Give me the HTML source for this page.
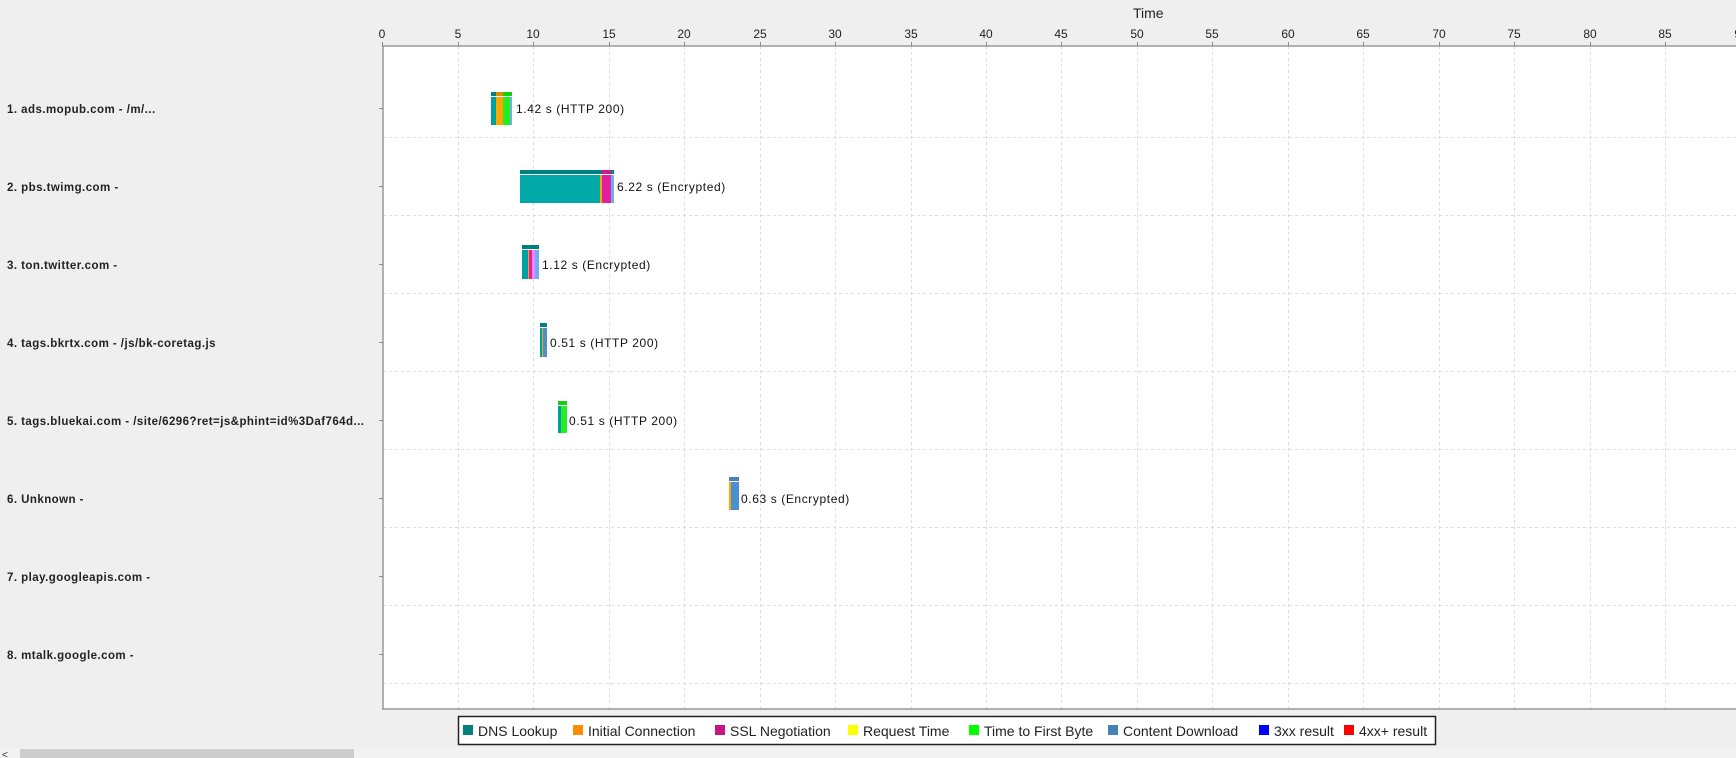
<!DOCTYPE html>
<html><head><meta charset="utf-8"><style>
html,body{margin:0;padding:0;background:#efefef;}
svg{display:block;font-family:"Liberation Sans",sans-serif;}
</style></head><body>
<svg width="1736" height="758" viewBox="0 0 1736 758" xmlns="http://www.w3.org/2000/svg">
<rect width="1736" height="758" fill="#efefef"/>
<text x="1133" y="18" font-size="14" fill="#222">Time</text>
<rect x="383" y="46" width="1360" height="663" fill="#fff"/>
<g stroke="#ddd" stroke-dasharray="3,3" stroke-width="1">
<line x1="458.5" y1="46" x2="458.5" y2="709"/><line x1="533.5" y1="46" x2="533.5" y2="709"/><line x1="609.5" y1="46" x2="609.5" y2="709"/><line x1="684.5" y1="46" x2="684.5" y2="709"/><line x1="760.5" y1="46" x2="760.5" y2="709"/><line x1="835.5" y1="46" x2="835.5" y2="709"/><line x1="911.5" y1="46" x2="911.5" y2="709"/><line x1="986.5" y1="46" x2="986.5" y2="709"/><line x1="1061.5" y1="46" x2="1061.5" y2="709"/><line x1="1137.5" y1="46" x2="1137.5" y2="709"/><line x1="1212.5" y1="46" x2="1212.5" y2="709"/><line x1="1288.5" y1="46" x2="1288.5" y2="709"/><line x1="1363.5" y1="46" x2="1363.5" y2="709"/><line x1="1439.5" y1="46" x2="1439.5" y2="709"/><line x1="1514.5" y1="46" x2="1514.5" y2="709"/><line x1="1590.5" y1="46" x2="1590.5" y2="709"/><line x1="1665.5" y1="46" x2="1665.5" y2="709"/>
<line x1="383" y1="137.5" x2="1736" y2="137.5"/><line x1="383" y1="215.5" x2="1736" y2="215.5"/><line x1="383" y1="293.5" x2="1736" y2="293.5"/><line x1="383" y1="371.5" x2="1736" y2="371.5"/><line x1="383" y1="449.5" x2="1736" y2="449.5"/><line x1="383" y1="527.5" x2="1736" y2="527.5"/><line x1="383" y1="605.5" x2="1736" y2="605.5"/><line x1="383" y1="683.5" x2="1736" y2="683.5"/>
</g>
<g stroke="#999" stroke-width="1.5">
<line x1="382" y1="46" x2="1736" y2="46"/><line x1="383" y1="46" x2="383" y2="709"/><line x1="382" y1="709" x2="1736" y2="709"/>
</g>
<g stroke="#888" stroke-width="1">
<line x1="382.5" y1="42" x2="382.5" y2="46"/><line x1="458.5" y1="42" x2="458.5" y2="46"/><line x1="533.5" y1="42" x2="533.5" y2="46"/><line x1="609.5" y1="42" x2="609.5" y2="46"/><line x1="684.5" y1="42" x2="684.5" y2="46"/><line x1="760.5" y1="42" x2="760.5" y2="46"/><line x1="835.5" y1="42" x2="835.5" y2="46"/><line x1="911.5" y1="42" x2="911.5" y2="46"/><line x1="986.5" y1="42" x2="986.5" y2="46"/><line x1="1061.5" y1="42" x2="1061.5" y2="46"/><line x1="1137.5" y1="42" x2="1137.5" y2="46"/><line x1="1212.5" y1="42" x2="1212.5" y2="46"/><line x1="1288.5" y1="42" x2="1288.5" y2="46"/><line x1="1363.5" y1="42" x2="1363.5" y2="46"/><line x1="1439.5" y1="42" x2="1439.5" y2="46"/><line x1="1514.5" y1="42" x2="1514.5" y2="46"/><line x1="1590.5" y1="42" x2="1590.5" y2="46"/><line x1="1665.5" y1="42" x2="1665.5" y2="46"/>
<line x1="379" y1="108.5" x2="383" y2="108.5"/><line x1="379" y1="186.5" x2="383" y2="186.5"/><line x1="379" y1="264.5" x2="383" y2="264.5"/><line x1="379" y1="342.5" x2="383" y2="342.5"/><line x1="379" y1="420.5" x2="383" y2="420.5"/><line x1="379" y1="498.5" x2="383" y2="498.5"/><line x1="379" y1="576.5" x2="383" y2="576.5"/><line x1="379" y1="654.5" x2="383" y2="654.5"/>
</g>
<g font-size="12" fill="#222" text-anchor="middle">
<text x="382" y="38">0</text><text x="458" y="38">5</text><text x="533" y="38">10</text><text x="609" y="38">15</text><text x="684" y="38">20</text><text x="760" y="38">25</text><text x="835" y="38">30</text><text x="911" y="38">35</text><text x="986" y="38">40</text><text x="1061" y="38">45</text><text x="1137" y="38">50</text><text x="1212" y="38">55</text><text x="1288" y="38">60</text><text x="1363" y="38">65</text><text x="1439" y="38">70</text><text x="1514" y="38">75</text><text x="1590" y="38">80</text><text x="1665" y="38">85</text><text x="1741" y="38">90</text>
</g>
<g font-size="11.5" fill="#222" font-weight="bold" letter-spacing="0.45">
<text x="7" y="113">1. ads.mopub.com - /m/...</text>
<text x="7" y="191">2. pbs.twimg.com -</text>
<text x="7" y="269">3. ton.twitter.com -</text>
<text x="7" y="347">4. tags.bkrtx.com - /js/bk-coretag.js</text>
<text x="7" y="425">5. tags.bluekai.com - /site/6296?ret=js&amp;phint=id%3Daf764d...</text>
<text x="7" y="503">6. Unknown -</text>
<text x="7" y="581">7. play.googleapis.com -</text>
<text x="7" y="659">8. mtalk.google.com -</text>
</g>
<rect x="491" y="92" width="21" height="4" fill="#e08a00"/><rect x="491" y="92" width="5" height="4" fill="#008080"/><rect x="503" y="92" width="9" height="4" fill="#10d010"/>
<rect x="491" y="97" width="5" height="28" fill="#00a0a0"/><rect x="496" y="97" width="7" height="28" fill="#ffa500"/><rect x="503" y="97" width="7" height="28" fill="#22ee22"/><rect x="510" y="97" width="2" height="28" fill="#6ab0f0"/>
<rect x="520" y="170" width="94" height="4" fill="#008080"/><rect x="602" y="170" width="9" height="4" fill="#d01890"/>
<rect x="520" y="175" width="80" height="28" fill="#00a8a8"/><rect x="600" y="175" width="2" height="28" fill="#ffa500"/><rect x="602" y="175" width="9" height="28" fill="#e020a0"/><rect x="611" y="175" width="3" height="28" fill="#6ab0f0"/>
<rect x="522" y="245" width="17" height="4" fill="#008080"/>
<rect x="522" y="250" width="6" height="29" fill="#00a0a0"/><rect x="528" y="250" width="1" height="29" fill="#ffa500"/><rect x="529" y="250" width="3" height="29" fill="#e020a0"/><rect x="532" y="250" width="3" height="29" fill="#ff80ff"/><rect x="535" y="250" width="4" height="29" fill="#6ab0f0"/>
<rect x="540" y="323" width="7" height="4" fill="#008080"/>
<rect x="540" y="328" width="2" height="29" fill="#00a0a0"/><rect x="542" y="328" width="1" height="29" fill="#ffa500"/><rect x="543" y="328" width="4" height="29" fill="#4a90d0"/>
<rect x="558" y="401" width="9" height="4" fill="#10d010"/>
<rect x="558" y="406" width="3" height="27" fill="#00a0a0"/><rect x="561" y="406" width="6" height="27" fill="#22ee22"/>
<rect x="729" y="477" width="10" height="4" fill="#4682b4"/>
<rect x="729" y="482" width="2" height="28" fill="#ffa500"/><rect x="731" y="482" width="8" height="28" fill="#4a90d0"/>
<g font-size="12" fill="#111" letter-spacing="0.6">
<text x="516" y="113">1.42 s (HTTP 200)</text>
<text x="617" y="191">6.22 s (Encrypted)</text>
<text x="542" y="269">1.12 s (Encrypted)</text>
<text x="550" y="347">0.51 s (HTTP 200)</text>
<text x="569" y="425">0.51 s (HTTP 200)</text>
<text x="741" y="503">0.63 s (Encrypted)</text>
</g>
<rect x="458.5" y="716.5" width="977" height="28" fill="#fff" stroke="#222" stroke-width="1.5"/>
<g font-size="14" fill="#222">
<rect x="463" y="725" width="10" height="10" fill="#008080"/><text x="478" y="736">DNS Lookup</text>
<rect x="573" y="725" width="10" height="10" fill="#ff8c00"/><text x="588" y="736">Initial Connection</text>
<rect x="715" y="725" width="10" height="10" fill="#c71585"/><text x="730" y="736">SSL Negotiation</text>
<rect x="848" y="725" width="10" height="10" fill="#ffff00"/><text x="863" y="736">Request Time</text>
<rect x="969" y="725" width="10" height="10" fill="#00ff00"/><text x="984" y="736">Time to First Byte</text>
<rect x="1108" y="725" width="10" height="10" fill="#4682b4"/><text x="1123" y="736">Content Download</text>
<rect x="1259" y="725" width="10" height="10" fill="#0000ff"/><text x="1274" y="736">3xx result</text>
<rect x="1344" y="725" width="10" height="10" fill="#ff0000"/><text x="1359" y="736">4xx+ result</text>
</g>
<rect x="0" y="748" width="1736" height="10" fill="#f2f2f2"/>
<rect x="20" y="749" width="334" height="9" fill="#cdcdcd"/>
<text x="2" y="758" font-size="10" fill="#333">&lt;</text>
</svg>
</body></html>
